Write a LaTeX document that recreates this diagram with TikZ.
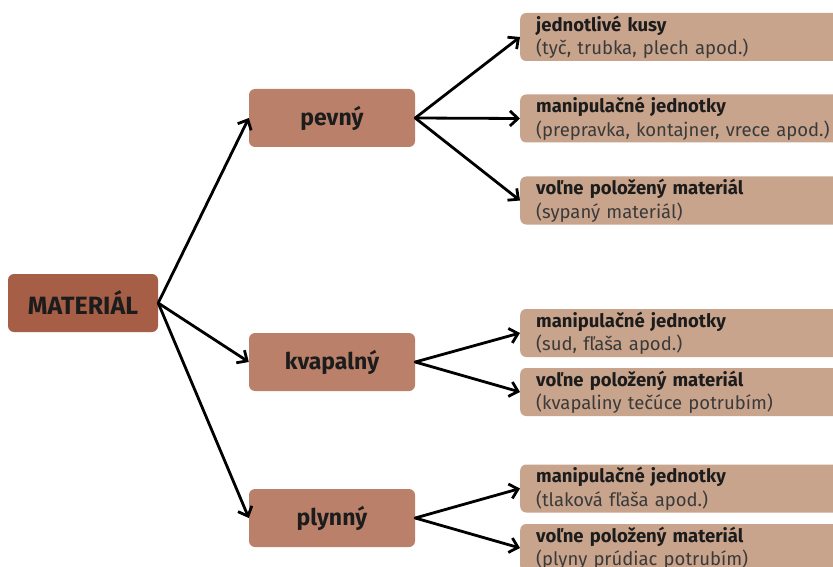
\documentclass[tikz,border=0pt]{standalone}
\usepackage{fontspec}
\setmainfont{Fira Sans}
\usetikzlibrary{arrows.meta}
\definecolor{rootc}{HTML}{A65E46}
\definecolor{midc}{HTML}{BA806A}
\definecolor{leafc}{HTML}{C9A48C}
\definecolor{inkc}{HTML}{1C1C1C}
\definecolor{subc}{HTML}{3A3A3A}
\tikzset{
  rootbox/.style={rectangle, rounded corners=6pt, fill=rootc, draw=none,
    minimum width=150pt, minimum height=58pt, inner sep=0pt,
    font=\fontsize{25}{28}\selectfont\bfseries, text=inkc},
  midbox/.style={rectangle, rounded corners=6pt, fill=midc, draw=none,
    minimum width=166pt, minimum height=58pt, inner sep=0pt,
    font=\fontsize{23}{26}\selectfont\bfseries, text=inkc},
  leafbox/.style={rectangle, rounded corners=6pt, fill=leafc, draw=none,
    anchor=west, minimum height=48pt, text width=310pt, align=left,
    inner xsep=16pt, inner ysep=0pt,
    font=\fontsize{18.5}{24.5}\selectfont, text=subc},
  link/.style={draw=black, line width=2.8pt, line cap=round,
    -{Straight Barb[length=8pt,width=15pt,line width=2.8pt]}},
}
\newcommand{\leaftext}[2]{\textbf{\color{inkc}#1}\\[-1pt]#2}
\begin{document}
\begin{tikzpicture}[x=1pt,y=-1pt]
\useasboundingbox[fill=white] (0,0) rectangle (833,567);
\begin{scope}
\clip (0,0) rectangle (833,567);
% root and the three states
\node[rootbox] (mat) at (83,303) {MATERIÁL};
\node[midbox] (pev) at (332,118) {pevný};
\node[midbox] (kva) at (332,362) {kvapalný};
\node[midbox] (ply) at (332,518) {plynný};
% leaves
\node[leafbox] (p1) at (520,37) {\leaftext{jednotlivé kusy}{(tyč, trubka, plech apod.)}};
\node[leafbox] (p2) at (520,118.5) {\leaftext{manipulačné jednotky}{(prepravka, kontajner, vrece apod.)}};
\node[leafbox] (p3) at (520,200.5) {\leaftext{voľne položený materiál}{(sypaný materiál)}};
\node[leafbox] (k1) at (520,333) {\leaftext{manipulačné jednotky}{(sud, fľaša apod.)}};
\node[leafbox] (k2) at (520,392) {\leaftext{voľne položený materiál}{(kvapaliny tečúce potrubím)}};
\node[leafbox] (g1) at (520,488.5) {\leaftext{manipulačné jednotky}{(tlaková fľaša apod.)}};
\node[leafbox] (g2) at (520,548) {\leaftext{voľne položený materiál}{(plyny prúdiac potrubím)}};
% connectors
\draw[link] (mat.east) -- (pev.west);
\draw[link] (mat.east) -- (kva.west);
\draw[link] (mat.east) -- (ply.west);
\draw[link] (pev.east) -- (p1.west);
\draw[link] (pev.east) -- (p2.west);
\draw[link] (pev.east) -- (p3.west);
\draw[link] (kva.east) -- (k1.west);
\draw[link] (kva.east) -- (k2.west);
\draw[link] (ply.east) -- (g1.west);
\draw[link] (ply.east) -- (g2.west);
\end{scope}
\end{tikzpicture}
\end{document}
